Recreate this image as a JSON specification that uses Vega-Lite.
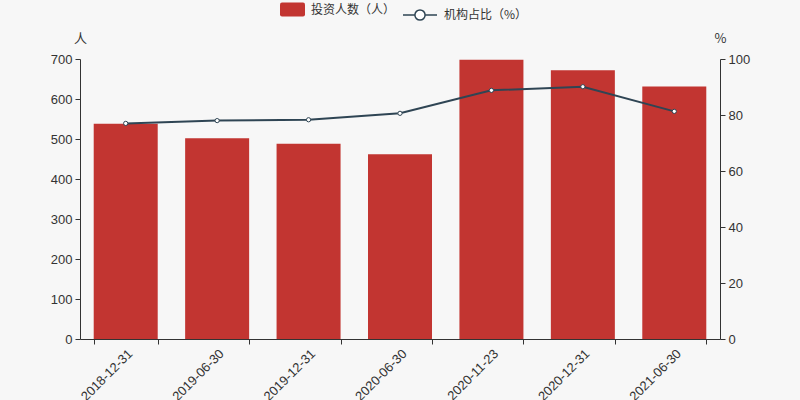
{
  "$schema": "https://vega.github.io/schema/vega-lite/v6.json",
  "width": 640,
  "height": 280,
  "autosize": {"type": "none"},
  "padding": {"left": 80, "top": 59, "right": 80, "bottom": 61},
  "background": "#f7f7f7",
  "config": {
    "view": {"stroke": null},
    "font": "Liberation Sans",
    "axis": {
      "labelFont": "Liberation Sans",
      "labelFontSize": 13,
      "labelColor": "#333333",
      "domainColor": "#333333",
      "tickColor": "#333333",
      "grid": false,
      "titleFont": "Noto Sans CJK SC",
      "titleFontSize": 13,
      "titleFontWeight": "normal",
      "titleColor": "#333333"
    },
    "legend": {
      "labelFont": "Noto Sans CJK SC",
      "labelFontSize": 12,
      "labelColor": "#333333"
    }
  },
  "data": {
    "values": [
      {"date": "2018-12-31", "investors": 538, "ratio": 77.0},
      {"date": "2019-06-30", "investors": 502, "ratio": 78.0},
      {"date": "2019-12-31", "investors": 488, "ratio": 78.3},
      {"date": "2020-06-30", "investors": 462, "ratio": 80.6},
      {"date": "2020-11-23", "investors": 698, "ratio": 88.8},
      {"date": "2020-12-31", "investors": 672, "ratio": 90.1},
      {"date": "2021-06-30", "investors": 631, "ratio": 81.3}
    ]
  },
  "encoding": {
    "x": {
      "field": "date",
      "type": "ordinal",
      "sort": null,
      "scale": {"paddingInner": 0.3, "paddingOuter": 0.15},
      "axis": {
        "title": null,
        "labelAngle": -45,
        "labelAlign": "right",
        "labelBaseline": "top",
        "tickBand": "extent",
        "tickSize": 5,
        "labelPadding": 3
      }
    }
  },
  "layer": [
    {
      "mark": {"type": "bar"},
      "encoding": {
        "y": {
          "field": "investors",
          "type": "quantitative",
          "scale": {"domain": [0, 700]},
          "axis": {
            "values": [0, 100, 200, 300, 400, 500, 600, 700],
            "title": "人",
            "titleAngle": 0,
            "titleX": 0,
            "titleY": -21,
            "titleAlign": "center",
            "titleBaseline": "middle",
            "tickSize": 5,
            "labelPadding": 3
          }
        },
        "fill": {
          "datum": "投资人数（人）",
          "type": "nominal",
          "scale": {"range": ["#c23531"]},
          "legend": {
            "title": null,
            "orient": "none",
            "legendX": 200,
            "legendY": -62,
            "symbolType": "M-0.84,-0.56H0.84Q1,-0.56 1,-0.4V0.4Q1,0.56 0.84,0.56H-0.84Q-1,0.56 -1,0.4V-0.4Q-1,-0.56 -0.84,-0.56Z",
            "symbolSize": 625,
            "symbolStrokeWidth": 0,
            "labelOffset": 6
          }
        }
      }
    },
    {
      "mark": {
        "type": "line",
        "strokeWidth": 2,
        "point": {"filled": false, "fill": "#ffffff", "size": 18, "strokeWidth": 1}
      },
      "encoding": {
        "y": {
          "field": "ratio",
          "type": "quantitative",
          "scale": {"domain": [0, 100]},
          "axis": {
            "orient": "right",
            "values": [0, 20, 40, 60, 80, 100],
            "title": "%",
            "titleAngle": 0,
            "titleX": 0,
            "titleY": -21,
            "titleAlign": "center",
            "titleBaseline": "middle",
            "tickSize": 5,
            "labelPadding": 3
          }
        },
        "stroke": {
          "datum": "机构占比（%）",
          "type": "nominal",
          "scale": {"range": ["#2f4554"]},
          "legend": {
            "title": null,
            "orient": "none",
            "legendX": 322,
            "legendY": -62,
            "symbolType": "M-1,0H-0.3M0.3,0H1M0.3,0A0.3,0.3 0 1,1 -0.3,0A0.3,0.3 0 1,1 0.3,0Z",
            "symbolSize": 1156,
            "symbolFillColor": "#ffffff",
            "symbolStrokeWidth": 1.5,
            "labelOffset": 6
          }
        }
      }
    }
  ],
  "resolve": {"scale": {"y": "independent"}}
}
